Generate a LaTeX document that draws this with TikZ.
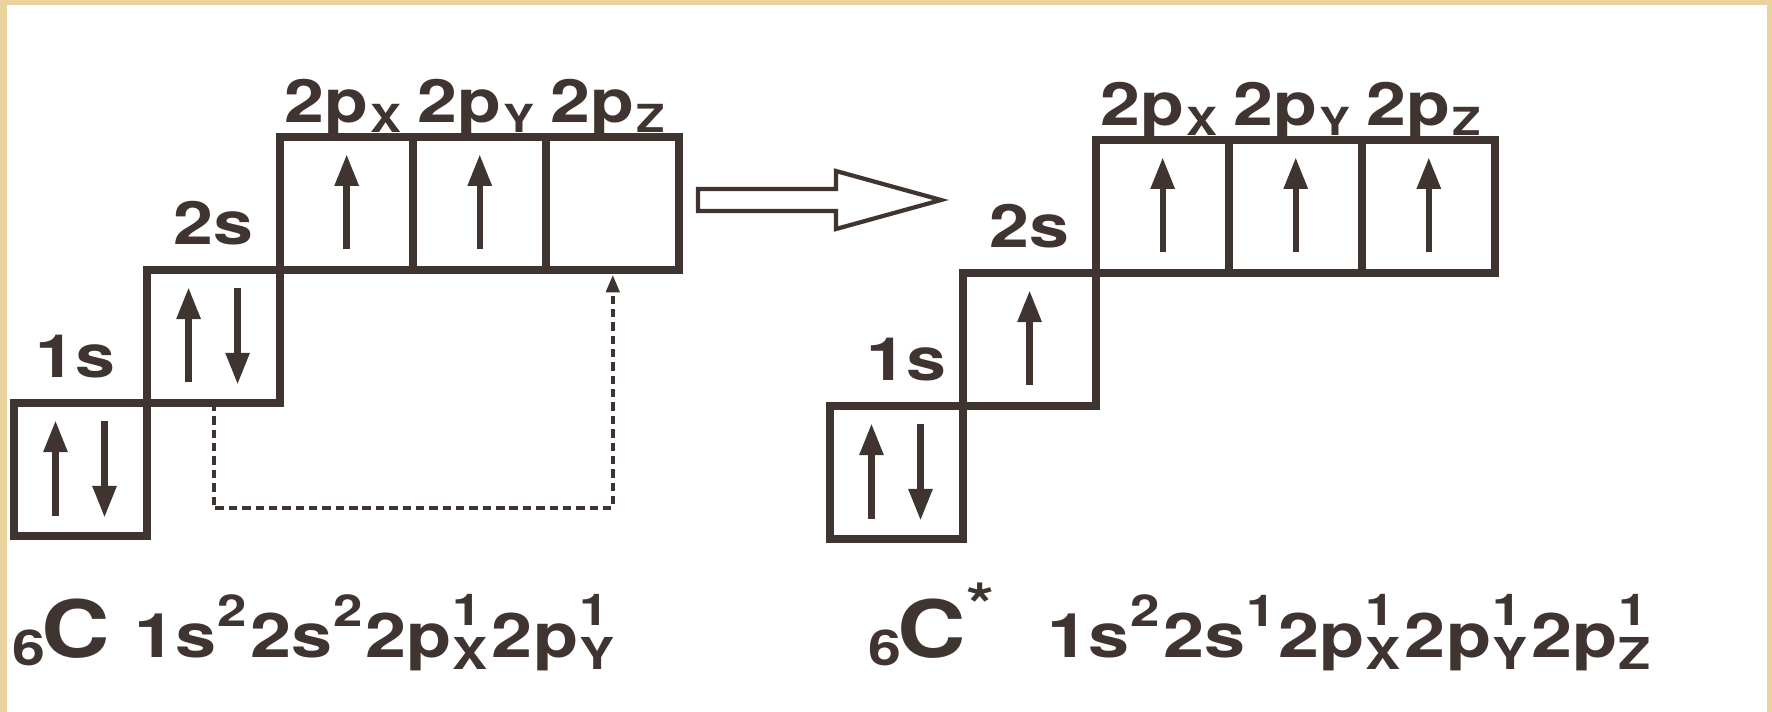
\documentclass[tikz,border=0pt]{standalone}
\usepackage{fontspec}
\setmainfont{TeX Gyre Heros}[FakeStretch=1.2]
\usetikzlibrary{arrows.meta,positioning}

\definecolor{ink}{RGB}{64,52,49}
\definecolor{paper}{RGB}{234,211,157}

\newcommand{\lblfnt}{\fontsize{17}{17}\selectfont\bfseries}
\newcommand{\mainfnt}{\fontsize{17.5}{17.5}\selectfont\bfseries}
\newcommand{\scrfnt}{\fontsize{12.5}{12.5}\selectfont\bfseries}
\newcommand{\lsub}[1]{\hspace{0.02cm}\raisebox{-0.1cm}{\fontsize{11}{11}\selectfont\bfseries #1}}
\newcommand{\esup}[1]{\hspace{0.01cm}\raisebox{0.3cm}{\scrfnt #1}\hspace{0.03cm}}
\newcommand{\esub}[2]{\hspace{0.01cm}\rlap{\raisebox{0.31cm}{\scrfnt #1}}\raisebox{-0.12cm}{\scrfnt #2}\hspace{0.04cm}}
\newcommand{\atom}[1]{\raisebox{-0.08cm}{\fontsize{14}{14}\selectfont\bfseries 6}\hspace{-0.04cm}\fontsize{22.5}{22.5}\selectfont\bfseries #1}

\begin{document}
\begin{tikzpicture}[x=0.01cm, y=-0.01cm,
    orbital/.style={draw=ink, line width=2.2pt, minimum size=1.33cm, inner sep=0pt, outer sep=0pt},
    spin/.style={ink, line width=1.8pt, -{Triangle[length=9pt,width=6.5pt]}},
    jump/.style={ink, line width=1.1pt, dash pattern=on 2.4pt off 1.4pt, -{Triangle[length=5pt,width=3.8pt]}},
    lvl/.style={text=ink, font=\lblfnt, inner sep=0pt},
    cfg/.style={text=ink, inner sep=0pt, anchor=base west}]

  \useasboundingbox (0,0) rectangle (1772,712);
  \fill[paper] (0,0) rectangle (1772,712);
  \fill[white] (7,5) rectangle (1767,712);

  % ground state
  \node[orbital] (g1s) at (80.5,469.5) {};
  \node[orbital, above right=0pt of g1s] (g2s) {};
  \node[orbital, above right=0pt of g2s] (gpx) {};
  \node[orbital, right=0pt of gpx] (gpy) {};
  \node[orbital, right=0pt of gpy] (gpz) {};

  % excited state
  \node[orbital] (e1s) at (896.5,472.5) {};
  \node[orbital, above right=0pt of e1s] (e2s) {};
  \node[orbital, above right=0pt of e2s] (epx) {};
  \node[orbital, right=0pt of epx] (epy) {};
  \node[orbital, right=0pt of epy] (epz) {};

  % level names
  \node[lvl, anchor=base] at ([xshift=-0.05cm,yshift=0.25cm]g1s.north) {1s};
  \node[lvl, anchor=base] at ([xshift=0.1cm,yshift=0.25cm]e1s.north) {1s};
  \foreach \s in {g,e} {
    \node[lvl, anchor=base] at ([yshift=0.25cm]\s2s.north) {2s};
    \foreach \p/\t in {px/X, py/Y, pz/Z}
      \node[lvl, anchor=base west] at ([xshift=0.04cm,yshift=0.14cm]\s\p.north west) {2p\lsub{\t}};
  }

  % electrons
  \foreach \b in {g1s,g2s,e1s} {
    \draw[spin] ([xshift=-0.25cm,yshift=-0.46cm]\b.center) -- ([xshift=-0.25cm,yshift=0.49cm]\b.center);
    \draw[spin] ([xshift=0.24cm,yshift=0.48cm]\b.center) -- ([xshift=0.24cm,yshift=-0.48cm]\b.center);
  }
  \foreach \b in {gpx,gpy,e2s,epx,epy,epz} {
    \draw[spin] ([yshift=-0.46cm]\b.center) -- ([yshift=0.49cm]\b.center);
  }

  % promotion 2s -> 2pz
  \draw[jump] (g2s.south) -- ++(0,105) -| ([yshift=-0.05cm]gpz.south);

  % hollow arrow
  \draw[ink, line width=1.2pt, fill=white] (698,189) -- (836,189) -- (836,171) -- (941,200)
    -- (836,229) -- (836,211) -- (698,211) -- cycle;

  % configurations
  \node[cfg] (gatom) at (12,657) {\atom{C}};
  \node[cfg] (gconf) at (134,657) {\mainfnt 1s\esup{2}2s\esup{2}2p\esub{1}{X}2p\esub{1}{Y}};
  \node[cfg] (eatom) at (868,657) {\atom{C}\raisebox{0.3cm}{\fontsize{17}{17}\selectfont *}};
  \node[cfg] (econf) at (1047,657) {\mainfnt 1s\esup{2}2s\esup{1}2p\esub{1}{X}2p\esub{1}{Y}2p\esub{1}{Z}};

\end{tikzpicture}
\end{document}
